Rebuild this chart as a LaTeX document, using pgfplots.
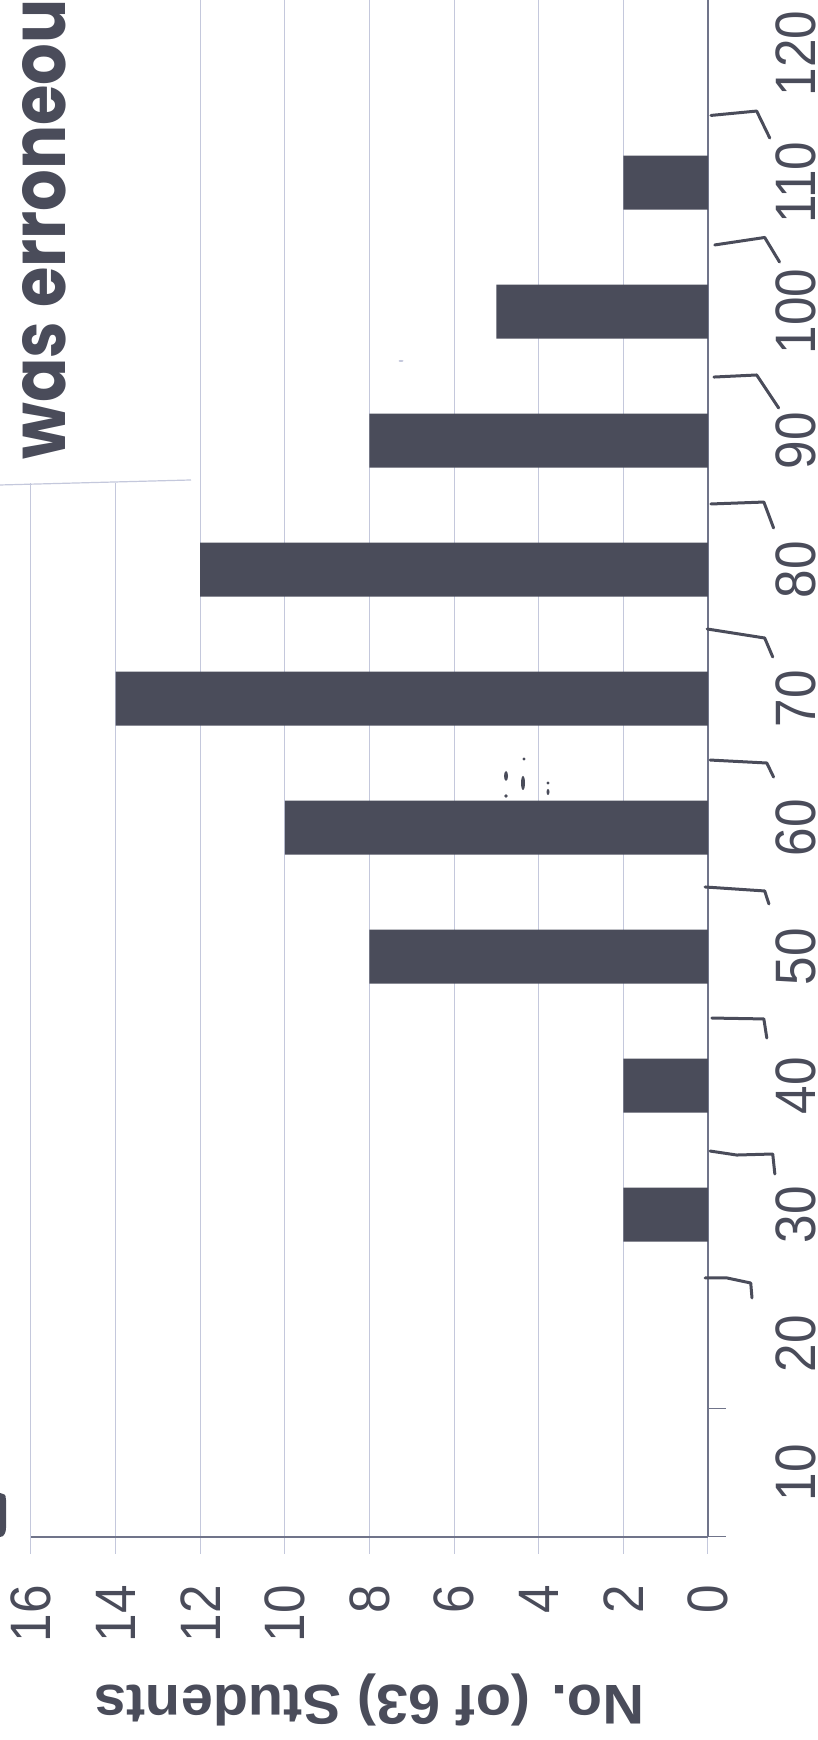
\documentclass[border=0pt]{standalone}
\usepackage{pgfplots}
\pgfplotsset{compat=1.18}
\usepackage{fontspec}
\setmainfont{Liberation Sans}
\newfontfamily\hand{Poppins}
\definecolor{ink}{HTML}{4A4C5A}
\definecolor{gridc}{HTML}{C4C8DC}
\definecolor{axisc}{HTML}{70748A}
\newcommand\tl[1]{\scalebox{0.9}[1]{#1}}
\begin{document}
\begin{tikzpicture}
\useasboundingbox (0,0) rectangle (409pt,870pt);
\begin{axis}[
  at={(15.5pt,101.5pt)},anchor=south west,
  scale only axis,width=338.5pt,height=768.5pt,
  x dir=reverse,
  xmin=0,xmax=16,ymin=5,ymax=124.15,
  clip=false,
  axis x line=bottom,axis y line=right,
  axis line style={-,draw=axisc,line width=0.9pt},
  xmajorgrids,
  grid style={draw=gridc,line width=0.5pt},
  xtick={0,2,4,6,8,10,12,14,16},
  xticklabels={\tl{0},\tl{2},\tl{4},\tl{6},\tl{8},\tl{10},\tl{12},\tl{14},\tl{16}},
  ytick={10,20,30,40,50,60,70,80,90,100,110,120},
  yticklabels={\tl{10},\tl{20},\tl{30},\tl{40},\tl{50},\tl{60},\tl{70},\tl{80},\tl{90},\tl{100},\tl{110},\tl{120}},
  minor ytick={5,15},
  tick align=outside,
  x tick style={draw=gridc,line width=0.5pt},
  major tick length=8.5pt,
  y tick style={draw=none},
  minor y tick style={draw=axisc,line width=0.5pt},
  minor tick length=9pt,
  xticklabel style={rotate=90,anchor=east,font=\fontsize{28.5}{30}\selectfont,text=ink,inner sep=0pt,xshift=-15.5pt},
  yticklabel style={rotate=90,anchor=north,font=\fontsize{28.5}{30}\selectfont,text=ink,inner sep=0pt,yshift=-25pt},
  xlabel={\scalebox{1.03}[1]{\bfseries No. (of 63) Students}},
  xlabel style={at={(axis description cs:0.5,0)},anchor=center,rotate=180,yshift=81.5pt,font=\fontsize{28}{30}\selectfont,text=ink},
]
\addplot[xbar,bar width=27pt,fill=ink,draw=none] coordinates {
 (2,30) (2,40) (8,50) (10,60) (14,70) (12,80) (8,90) (5,100) (2,110)};
\addplot[ink,line width=1.5pt,line join=round,line cap=round] coordinates {(-0.07,115.2) (-1.15,115.54) (-1.46,113.45)};
\addplot[ink,line width=1.5pt,line join=round,line cap=round] coordinates {(-0.16,105.16) (-1.34,105.74) (-1.69,103.84)};
\addplot[ink,line width=1.5pt,line join=round,line cap=round] coordinates {(-0.14,94.92) (-1.15,95.08) (-1.67,92.52)};
\addplot[ink,line width=1.5pt,line join=round,line cap=round] coordinates {(-0.07,85.08) (-1.32,85.23) (-1.55,83.22)};
\addplot[ink,line width=1.5pt,line join=round,line cap=round] coordinates {(0.02,75.39) (-1.34,74.69) (-1.53,73.22)};
\addplot[ink,line width=1.5pt,line join=round,line cap=round] coordinates {(-0.05,65.23) (-1.39,65.0) (-1.55,63.91)};
\addplot[ink,line width=1.5pt,line join=round,line cap=round] coordinates {(0.07,55.39) (-1.34,55.08) (-1.44,54.07)};
\addplot[ink,line width=1.5pt,line join=round,line cap=round] coordinates {(-0.09,45.23) (-1.32,45.16) (-1.39,43.68)};
\addplot[ink,line width=1.5pt,line join=round,line cap=round] coordinates {(-0.05,34.92) (-0.68,34.61) (-1.53,34.69) (-1.58,33.14)};
\addplot[ink,line width=1.5pt,line join=round,line cap=round] coordinates {(0.07,25.08) (-0.45,25.08) (-1.01,24.69) (-1.04,23.53)};
\end{axis}
\begin{scope}[x=0.5pt,y=-0.5pt,shift={(0pt,870pt)}]
% paper patch pasted over the chart, with its handwritten note
\fill[white] (0,0) rectangle (192,483);
\draw[gridc,line width=0.6pt] (0,485) -- (191,480);
\node[rotate=90,anchor=south west,inner sep=0pt,text=ink] at (67,460)
  {\scalebox{0.862}[1]{\hand\bfseries\fontsize{38}{44}\selectfont was erroneou}};
\fill[ink] (0,1493) -- (3,1494) to[out=0,in=90] (6,1500) -- (6,1528) to[out=-90,in=0] (0,1537) -- cycle;
\fill[ink] (506,776) ellipse (2 and 5);
\fill[ink] (523,783) ellipse (2 and 7);
\fill[ink] (524,759) circle (1.6);
\fill[ink] (506,796) circle (1.8);
\fill[ink] (548,783) circle (1.6);
\fill[ink] (548,792) ellipse (1.5 and 3);
\fill[gridc] (401,361) ellipse (2.5 and 1);
\end{scope}
\end{tikzpicture}
\end{document}
